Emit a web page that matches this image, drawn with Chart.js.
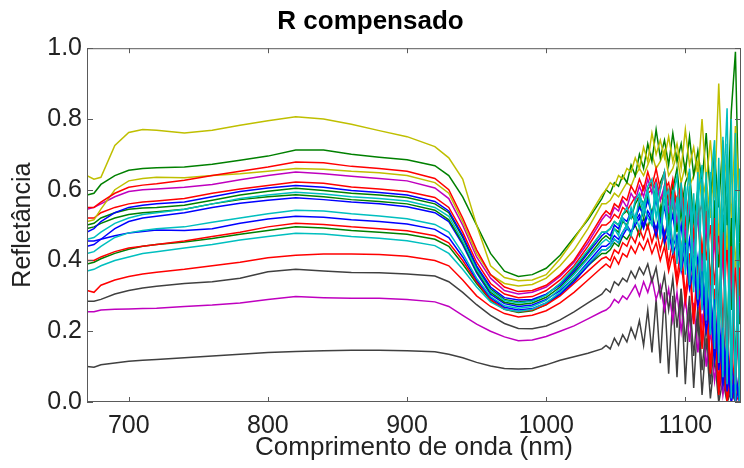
<!DOCTYPE html>
<html lang="pt">
<head>
  <meta charset="UTF-8">
  <title>R compensado</title>
  <style>
    html, body { margin: 0; padding: 0; background: #fff; }
    #chartCanvas { display: block; }
  </style>
  <script src="https://cdn.jsdelivr.net/npm/chart.js"></script>
</head>
<body>
  <canvas id="chartCanvas" width="744" height="468"></canvas>

  <script>
    // comprimentos de onda (nm) - trecho suave + trecho ruidoso
    const wavelengths = [670, 675, 680, 690, 700, 710, 720, 740, 760, 780, 800, 820, 840, 860, 880, 900, 920, 930, 940, 950,
      960, 970, 980, 990, 1000, 1010, 1020, 1030, 1040,
      1043, 1046, 1049, 1052, 1055, 1058, 1061, 1064, 1067, 1070, 1073, 1076, 1079, 1082, 1085, 1088, 1091,
      1094, 1097, 1100, 1103, 1106, 1109, 1112, 1115, 1118, 1121, 1124, 1127, 1130, 1133, 1136, 1139];

    const xTicks = [700, 800, 900, 1000, 1100];
    const yTicks = [0, 0.2, 0.4, 0.6, 0.8, 1.0];

    // reflectancias (uma amostra por lista)
    const amostraY1 = [.64, .63, .635, .725, .762, .77, .768, .76, .768, .782, .795, .806, .80, .785, .767, .75, .722, .69, .63, .50,
      .385, .352, .343, .345, .36, .405, .46, .52, .585,
      .60, .62, .61, .64, .63, .66, .65, .69, .66, .72, .68, .76, .70, .74, .69, .75, .68, .73, .66, .77, .67, .72, .64, .80, .62,
      .74, .58, .90, .60, .70, .52, .78, .55];
    const amostraG1 = [.585, .59, .615, .64, .655, .66, .662, .664, .672, .683, .695, .712, .712, .70, .692, .685, .668, .64, .58, .50,
      .42, .37, .355, .36, .378, .415, .465, .515, .575,
      .60, .59, .62, .61, .64, .62, .67, .64, .70, .66, .73, .68, .77, .69, .74, .67, .76, .68, .73, .65, .75, .64, .71, .62, .76,
      .58, .70, .55, .74, .50, .82, .99, .45];
    const amostraR1 = [.55, .55, .565, .59, .607, .613, .617, .627, .64, .652, .664, .678, .676, .666, .66, .652, .632, .60, .52, .43,
      .36, .325, .312, .315, .33, .36, .40, .46, .525,
      .54, .53, .56, .55, .58, .57, .61, .59, .63, .60, .65, .61, .66, .60, .65, .57, .63, .55, .61, .50, .59, .47, .57, .42, .54,
      .33, .52, .22, .48, .12, .44, .05, .38];
    const amostraY2 = [.51, .515, .545, .60, .625, .632, .635, .634, .64, .645, .652, .66, .658, .652, .648, .64, .62, .59, .51, .42,
      .36, .335, .328, .332, .35, .385, .43, .49, .56,
      .56, .57, .59, .58, .60, .62, .61, .64, .66, .64, .67, .70, .66, .68, .71, .64, .66, .70, .62, .67, .61, .64, .68, .56, .63,
      .52, .70, .47, .62, .43, .67, .38, .58];
    const amostraM1 = [.545, .55, .56, .58, .595, .60, .602, .607, .615, .628, .64, .65, .645, .638, .632, .625, .605, .575, .50, .41,
      .35, .315, .305, .31, .325, .355, .395, .45, .515,
      .53, .52, .55, .54, .57, .55, .59, .57, .61, .58, .63, .59, .62, .57, .61, .54, .59, .51, .57, .47, .55, .43, .53, .37, .51,
      .29, .47, .21, .43, .13, .39, .05, .30];
    const amostraR2 = [.52, .52, .535, .55, .56, .565, .568, .575, .59, .602, .612, .622, .618, .608, .602, .595, .578, .55, .48, .395,
      .335, .305, .295, .298, .315, .345, .385, .44, .50,
      .50, .51, .53, .52, .55, .54, .56, .58, .57, .61, .59, .60, .63, .57, .60, .62, .55, .58, .61, .51, .57, .47, .52, .56, .40,
      .50, .33, .49, .22, .45, .12, .40, .04];
    const amostraB1 = [.48, .49, .51, .535, .55, .556, .56, .565, .58, .595, .605, .612, .607, .598, .592, .585, .567, .54, .47, .385,
      .325, .295, .288, .29, .305, .33, .37, .42, .47,
      .48, .47, .50, .49, .52, .51, .54, .52, .55, .53, .57, .53, .57, .51, .55, .48, .53, .44, .50, .39, .46, .33, .41, .27, .35,
      .19, .29, .09, .21, .03, .12, 0, .05];
    const amostraG2 = [.50, .505, .52, .535, .545, .548, .55, .556, .57, .585, .596, .604, .598, .59, .585, .578, .56, .535, .465, .38,
      .32, .29, .283, .287, .303, .335, .375, .425, .48,
      .48, .49, .51, .50, .53, .54, .52, .56, .58, .56, .60, .62, .57, .62, .65, .56, .60, .66, .54, .62, .65, .51, .60, .64, .47,
      .58, .62, .38, .54, .58, .26, .57, .22];
    const amostraC1 = [.46, .465, .48, .505, .52, .53, .535, .545, .56, .575, .585, .593, .588, .58, .575, .568, .55, .525, .455, .375,
      .315, .287, .28, .285, .302, .335, .38, .43, .48,
      .48, .49, .51, .50, .53, .55, .52, .57, .59, .55, .61, .63, .52, .60, .65, .47, .58, .64, .41, .55, .66, .36, .57, .67, .30,
      .62, .74, .18, .55, .83, .06, .70, 0];
    const amostraG3 = [.49, .495, .505, .52, .53, .535, .538, .545, .56, .572, .58, .586, .58, .572, .567, .56, .542, .515, .45, .37,
      .31, .282, .275, .28, .296, .325, .365, .41, .46,
      .47, .46, .49, .48, .51, .50, .53, .51, .56, .52, .58, .53, .59, .52, .61, .50, .62, .48, .62, .45, .61, .42, .60, .38, .60,
      .32, .57, .25, .53, .18, .52, .10, .45];
    const amostraB2 = [.44, .445, .46, .49, .51, .52, .525, .535, .55, .562, .57, .577, .572, .565, .56, .552, .535, .51, .445, .365,
      .305, .278, .27, .274, .29, .315, .35, .395, .44,
      .44, .45, .47, .46, .48, .50, .48, .51, .53, .50, .54, .52, .49, .53, .47, .51, .44, .47, .40, .46, .35, .41, .30, .37, .23,
      .31, .16, .25, .08, .17, .02, .09, 0];
    const amostraC2 = [.42, .425, .44, .465, .478, .485, .49, .495, .508, .52, .532, .542, .54, .532, .526, .518, .502, .48, .42, .35,
      .298, .272, .265, .27, .287, .32, .36, .405, .45,
      .46, .45, .49, .47, .52, .49, .55, .51, .58, .53, .60, .51, .62, .47, .61, .43, .60, .39, .62, .36, .61, .31, .65, .26, .65,
      .19, .71, .11, .75, .05, .80, 0, .66];
    const amostraB3 = [.455, .455, .46, .47, .478, .482, .486, .485, .49, .505, .517, .525, .522, .515, .51, .503, .488, .465, .41, .345,
      .295, .268, .26, .264, .28, .305, .34, .385, .43,
      .43, .44, .46, .45, .47, .49, .48, .50, .52, .49, .53, .51, .47, .52, .45, .48, .42, .45, .37, .43, .32, .38, .27, .33, .20,
      .27, .12, .21, .05, .13, 0, .06, 0];
    const amostraR3 = [.40, .40, .41, .425, .435, .44, .445, .455, .468, .48, .495, .505, .502, .495, .49, .484, .47, .45, .40, .34,
      .29, .263, .255, .26, .275, .30, .335, .37, .405,
      .41, .40, .43, .42, .45, .44, .47, .45, .49, .46, .50, .45, .49, .43, .48, .39, .46, .35, .44, .30, .42, .23, .40, .16, .36,
      .09, .32, .04, .25, 0, .18, 0, .08];
    const amostraG4 = [.39, .395, .405, .42, .432, .44, .445, .452, .462, .474, .485, .495, .492, .485, .48, .474, .46, .44, .39, .335,
      .288, .262, .253, .258, .275, .305, .345, .385, .42,
      .42, .43, .45, .44, .47, .46, .48, .50, .47, .52, .49, .54, .47, .55, .45, .54, .56, .43, .55, .40, .54, .36, .55, .30, .51,
      .23, .52, .16, .46, .09, .48, .03, .35];
    const amostraC3 = [.37, .375, .385, .40, .41, .42, .425, .435, .445, .458, .468, .477, .475, .468, .463, .456, .442, .42, .375, .325,
      .283, .262, .256, .262, .28, .31, .35, .39, .43,
      .43, .44, .46, .45, .48, .50, .47, .53, .49, .56, .52, .50, .59, .46, .57, .60, .42, .58, .37, .61, .33, .59, .29, .63, .23,
      .65, .15, .69, .07, .73, .01, .76, 0];
    const amostraR4 = [.315, .31, .33, .345, .355, .362, .367, .375, .385, .395, .408, .415, .418, .418, .417, .412, .40, .385, .345, .30,
      .27, .25, .24, .245, .258, .28, .31, .345, .38,
      .39, .38, .41, .39, .42, .41, .44, .42, .45, .43, .46, .42, .45, .40, .44, .37, .42, .33, .40, .28, .37, .22, .33, .15, .28,
      .08, .22, .02, .15, 0, .08, 0, .02];
    const amostraK1 = [.285, .285, .29, .305, .315, .322, .327, .335, .34, .35, .368, .375, .37, .366, .365, .362, .356, .34, .31, .275,
      .245, .222, .208, .207, .215, .232, .255, .28, .305,
      .32, .31, .34, .33, .35, .34, .37, .35, .38, .36, .39, .34, .38, .30, .36, .26, .35, .21, .32, .17, .30, .13, .27, .09, .22,
      .05, .17, .02, .10, 0, .05, 0, 0];
    const amostraM2 = [.255, .255, .26, .262, .263, .264, .265, .27, .274, .28, .29, .298, .295, .293, .293, .29, .283, .27, .245, .22,
      .20, .184, .173, .175, .185, .20, .215, .235, .255,
      .26, .27, .29, .28, .30, .29, .31, .33, .30, .34, .31, .35, .29, .33, .26, .32, .23, .31, .20, .30, .17, .28, .14, .25, .10,
      .20, .06, .15, .02, .10, 0, .05, 0];
    const amostraK2 = [.10, .098, .105, .11, .115, .118, .12, .125, .13, .135, .14, .143, .145, .146, .146, .145, .142, .135, .125, .112,
      .102, .095, .093, .095, .105, .118, .128, .138, .15,
      .16, .15, .18, .16, .19, .17, .21, .18, .23, .16, .26, .14, .29, .11, .31, .08, .30, .07, .32, .05, .27, .04, .24, .02, .18,
      .01, .12, 0, .06, 0, .03, 0, 0];

    // cores do MATLAB antigo
    const amarelo = "rgb(191,191,0)", verde = "rgb(0,128,0)", vermelho = "rgb(255,0,0)", magenta = "rgb(191,0,191)",
          azul = "rgb(0,0,255)", ciano = "rgb(0,191,191)", preto = "rgb(64,64,64)";

    const series = [
      [amostraC1, ciano, 0], [amostraC2, ciano, 0], [amostraC3, ciano, 0],
      [amostraY1, amarelo, 1], [amostraG1, verde, 1], [amostraR1, vermelho, 1], [amostraY2, amarelo, 1],
      [amostraM1, magenta, 1], [amostraR2, vermelho, 1], [amostraB1, azul, 1], [amostraG2, verde, 1],
      [amostraG3, verde, 1], [amostraB2, azul, 1], [amostraB3, azul, 1], [amostraR3, vermelho, 1],
      [amostraG4, verde, 1], [amostraR4, vermelho, 1], [amostraK1, preto, 1], [amostraM2, magenta, 1], [amostraK2, preto, 1]
    ];

    const fonte = "'Liberation Sans', Arial, Helvetica, sans-serif";

    // caixa em volta do grafico com marcas para dentro (estilo MATLAB)
    const caixaPlugin = {
      id: "caixa",
      afterDatasetsDraw(chart) {
        const { ctx, chartArea: a, scales } = chart;
        ctx.save();
        ctx.strokeStyle = "#5a5a5a";
        ctx.lineWidth = 1;
        ctx.strokeRect(a.left + 0.5, a.top + 0.5, a.right - a.left - 1, a.bottom - a.top - 1);
        ctx.beginPath();
        xTicks.forEach(v => {
          const x = Math.round(scales.x.getPixelForValue(v)) + 0.5;
          ctx.moveTo(x, a.bottom); ctx.lineTo(x, a.bottom - 5);
          ctx.moveTo(x, a.top); ctx.lineTo(x, a.top + 5);
        });
        yTicks.forEach(v => {
          const y = Math.round(scales.y.getPixelForValue(v)) + 0.5;
          ctx.moveTo(a.left, y); ctx.lineTo(a.left + 6, y);
          ctx.moveTo(a.right, y); ctx.lineTo(a.right - 6, y);
        });
        ctx.stroke();
        ctx.restore();
      }
    };

    new Chart(document.getElementById("chartCanvas"), {
      type: "line",
      data: {
        datasets: series.map(([vals, cor, ordem]) => ({
          data: wavelengths.map((w, i) => ({ x: w, y: vals[i] })),
          borderColor: cor,
          borderWidth: 1.5,
          pointRadius: 0,
          tension: 0,
          order: ordem
        }))
      },
      options: {
        responsive: false,
        animation: false,
        events: [],
        layout: { padding: { left: 0, right: 3, top: 0, bottom: 0 } },
        plugins: {
          legend: { display: false },
          tooltip: { enabled: false },
          title: {
            display: true,
            text: "R compensado",
            color: "#000",
            font: { family: fonte, size: 26, weight: "bold" },
            padding: { top: 6, bottom: 11 }
          }
        },
        scales: {
          x: {
            type: "linear",
            min: 670,
            max: 1140,
            grid: { display: false, drawTicks: false },
            border: { display: false },
            afterBuildTicks: s => { s.ticks = xTicks.map(v => ({ value: v })); },
            afterFit: s => { s.height = 66; },
            ticks: {
              color: "#222",
              padding: 9,
              maxRotation: 0,
              font: { family: fonte, size: 25 },
              callback: v => String(v)
            },
            title: {
              display: true,
              text: "Comprimento de onda (nm)",
              color: "#222",
              font: { family: fonte, size: 26 },
              padding: { top: 0, bottom: 5 }
            }
          },
          y: {
            min: 0,
            max: 1,
            grid: { display: false, drawTicks: false },
            border: { display: false },
            afterBuildTicks: s => { s.ticks = yTicks.map(v => ({ value: v })); },
            afterFit: s => { s.width = 87; },
            ticks: {
              color: "#222",
              padding: 5,
              font: { family: fonte, size: 25 },
              callback: v => v.toFixed(1)
            },
            title: {
              display: true,
              text: "Refletância",
              color: "#222",
              font: { family: fonte, size: 25 },
              padding: { top: 8, bottom: 0 }
            }
          }
        }
      },
      plugins: [caixaPlugin]
    });
  </script>
</body>
</html>
